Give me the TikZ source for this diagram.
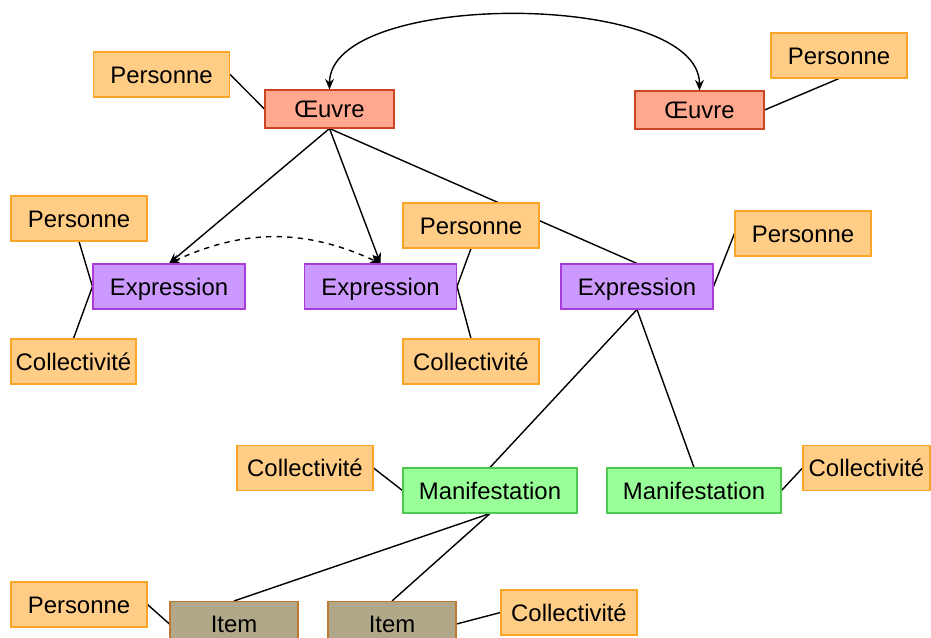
\documentclass[tikz,border=0pt]{standalone}
\usepackage{fontspec}
\setmainfont{Liberation Sans}
\usetikzlibrary{backgrounds,arrows.meta}

\definecolor{agentfill}{RGB}{255,205,133}
\definecolor{agentline}{RGB}{250,165,40}
\definecolor{oeuvrefill}{RGB}{255,168,142}
\definecolor{oeuvreline}{RGB}{205,70,35}
\definecolor{exprfill}{RGB}{204,153,255}
\definecolor{exprline}{RGB}{170,60,220}
\definecolor{maniffill}{RGB}{153,255,153}
\definecolor{manifline}{RGB}{80,200,80}
\definecolor{itemfill}{RGB}{176,168,136}
\definecolor{itemline}{RGB}{190,120,50}

\tikzset{
	box/.style={draw, line width=0.6pt, inner sep=0pt, minimum height=0.9cm,
		text height=11pt, text depth=1pt, font=\fontsize{13.6}{16}\selectfont},
	agent/.style={box, fill=agentfill, draw=agentline, minimum width=2.72cm},
	oeuvre/.style={box, fill=oeuvrefill, draw=oeuvreline, minimum width=2.58cm, minimum height=0.76cm},
	expr/.style={box, fill=exprfill, draw=exprline, minimum width=3.04cm},
	manif/.style={box, fill=maniffill, draw=manifline, minimum width=3.48cm},
	item/.style={box, fill=itemfill, draw=itemline, minimum width=2.56cm},
	link/.style={draw=black, line width=0.8pt},
	>={Stealth[length=6pt,width=5pt]}
}

\begin{document}
\begin{tikzpicture}[x=0.02cm,y=0.02cm]
				\useasboundingbox (0,0) rectangle (931,637);
				
				%% oeuvres
				\node[oeuvre] (oA) at (329.5,528) {Œuvre};
				\node[oeuvre] (oB) at (699.5,527) {Œuvre};
				\node[agent] (pA) at (161.5,562.5) {Personne};
				\node[agent] (pB) at (839,581.5) {Personne};
				
				%% expressions
				\node[expr] (eA) at (169,350.5) {Expression};
				\node[expr] (eB) at (380.5,350.5) {Expression};
				\node[expr] (eC) at (637,350.5) {Expression};
				\node[agent] (pC) at (79,418.5) {Personne};
				\node[agent,minimum width=2.5cm] (cA) at (73.5,275.5) {Collectivité};
				\node[agent] (pD) at (471,411.5) {Personne};
				\node[agent] (cB) at (471,275.5) {Collectivité};
				\node[agent] (pE) at (803,403.5) {Personne};
				
				%% manifestations
				\node[manif] (mA) at (490,146.5) {Manifestation};
				\node[manif] (mB) at (694,146.5) {Manifestation};
				\node[agent] (cC) at (305,169) {Collectivité};
				\node[agent,minimum width=2.54cm] (cD) at (866.5,169) {Collectivité};
				
				%% items
				\node[item] (iA) at (234,13) {Item};
				\node[item] (iB) at (392,13) {Item};
				\node[agent] (pF) at (79,32.5) {Personne};
				\node[agent] (cE) at (569,24.5) {Collectivité};
				
				\begin{pgfonlayer}{background}
					\draw[link, <->] (oA.north) .. controls +(0,2cm) and +(0,2cm) .. (oB.north);
					\draw[link] (pA.east) -- (oA.west);
					\draw[link] (oB.east) -- (pB.south);
					\draw[link, ->] (oA.south) -- (eA.north);
					\draw[link, ->] (oA.south) -- (eB.north);
					\draw[link] (oA.south) -- (eC.north);
					\draw[link, dashed, <->] (eA.north) to[bend left=25] (eB.north);
					\draw[link] (pC.south) -- (eA.west) -- (cA.north);
					\draw[link] (pD.south) -- (eB.east) -- (cB.north);
					\draw[link] (eC.east) -- (pE.west);
					\draw[link] (eC.south) -- (mA.north);
					\draw[link] (eC.south) -- (mB.north);
					\draw[link] (cC.east) -- (mA.west);
					\draw[link] (mB.east) -- (cD.west);
					\draw[link] (mA.south) -- (iA.north);
					\draw[link] (mA.south) -- (iB.north);
					\draw[link] (pF.east) -- (iA.west);
					\draw[link] (iB.east) -- (cE.west);
				\end{pgfonlayer}
		\end{tikzpicture}
\end{document}
